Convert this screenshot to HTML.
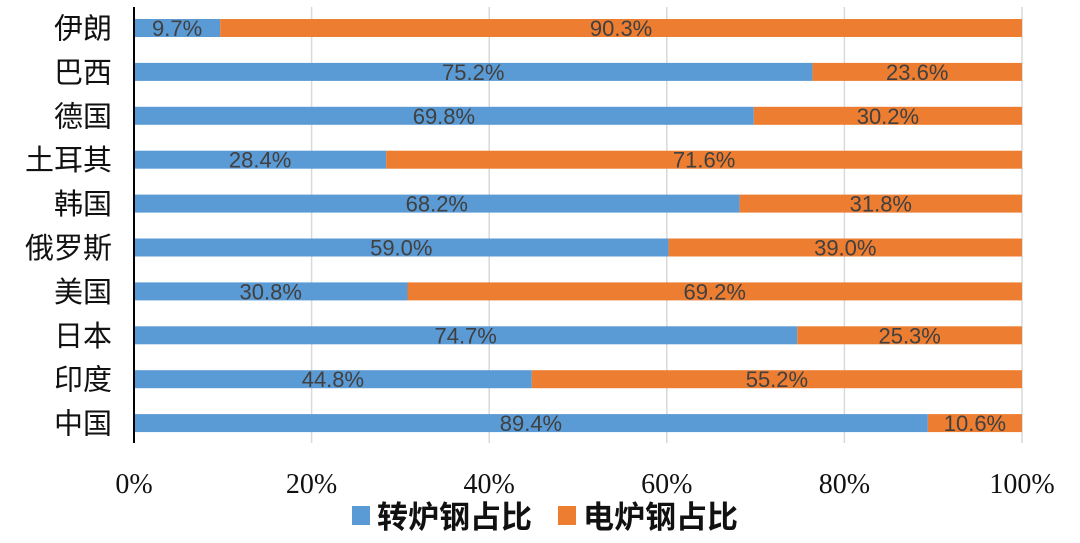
<!DOCTYPE html>
<html><head><meta charset="utf-8"><style>
body{margin:0;background:#fff;}
svg{display:block}
</style></head><body>
<svg width="1080" height="543" xmlns="http://www.w3.org/2000/svg">
<g stroke="#d9d9d9" stroke-width="1.5">
<line x1="311.6" y1="7" x2="311.6" y2="443"/>
<line x1="489.2" y1="7" x2="489.2" y2="443"/>
<line x1="666.8" y1="7" x2="666.8" y2="443"/>
<line x1="844.4" y1="7" x2="844.4" y2="443"/>
<line x1="1022" y1="7" x2="1022" y2="443"/>
</g>
<g id="bars" font-family="'Liberation Sans',sans-serif" font-size="22" fill="#404040" text-anchor="middle"></g>
<line x1="134" y1="7" x2="134" y2="443" stroke="#000" stroke-width="2"/>
<g font-family="'Liberation Sans','Noto Sans CJK SC',sans-serif" font-size="29" fill="#111" text-anchor="end" id="cats"></g>
<g font-family="'Liberation Serif',serif" font-size="28" fill="#111" text-anchor="middle">
<text x="134" y="493">0%</text><text x="311.6" y="493">20%</text><text x="489.2" y="493">40%</text><text x="666.8" y="493">60%</text><text x="844.4" y="493">80%</text><text x="1022" y="493">100%</text>
</g>
<rect x="352" y="506" width="18" height="19" fill="#5B9BD5"/>
<rect x="558" y="506" width="18" height="19" fill="#ED7D31"/>
<g font-family="'Liberation Sans','Noto Sans CJK SC',sans-serif" font-size="31" font-weight="bold" fill="#111">
<text x="377" y="528">转炉钢占比</text><text x="583" y="528">电炉钢占比</text>
</g>
<script>
var d=[["伊朗",9.7],["巴西",76.4,"75.2%","23.6%"],["德国",69.8],["土耳其",28.4],["韩国",68.2],["俄罗斯",60.2,"59.0%","39.0%"],["美国",30.8],["日本",74.7],["印度",44.8],["中国",89.4]];
var b=document.getElementById("bars"),c=document.getElementById("cats"),ns="http://www.w3.org/2000/svg",W=888;
function el(p,t,a,tx){var e=document.createElementNS(ns,t);for(var k in a)e.setAttribute(k,a[k]);if(tx)e.textContent=tx;p.appendChild(e);}
d.forEach(function(r,i){var y=19+i*43.9,w=r[1]/100*W;
el(b,"rect",{x:134,y:y,width:w,height:18,fill:"#5B9BD5"});
el(b,"rect",{x:134+w,y:y,width:W-w,height:18,fill:"#ED7D31"});
var l1=r[2]||r[1].toFixed(1)+"%",l2=r[3]||(100-r[1]).toFixed(1)+"%";
el(b,"text",{x:134+w/2,y:y+17},l1);
el(b,"text",{x:134+w+(W-w)/2,y:y+17},l2);
el(c,"text",{x:112,y:y+19.5},r[0]);});
</script>
</svg>
</body></html>
